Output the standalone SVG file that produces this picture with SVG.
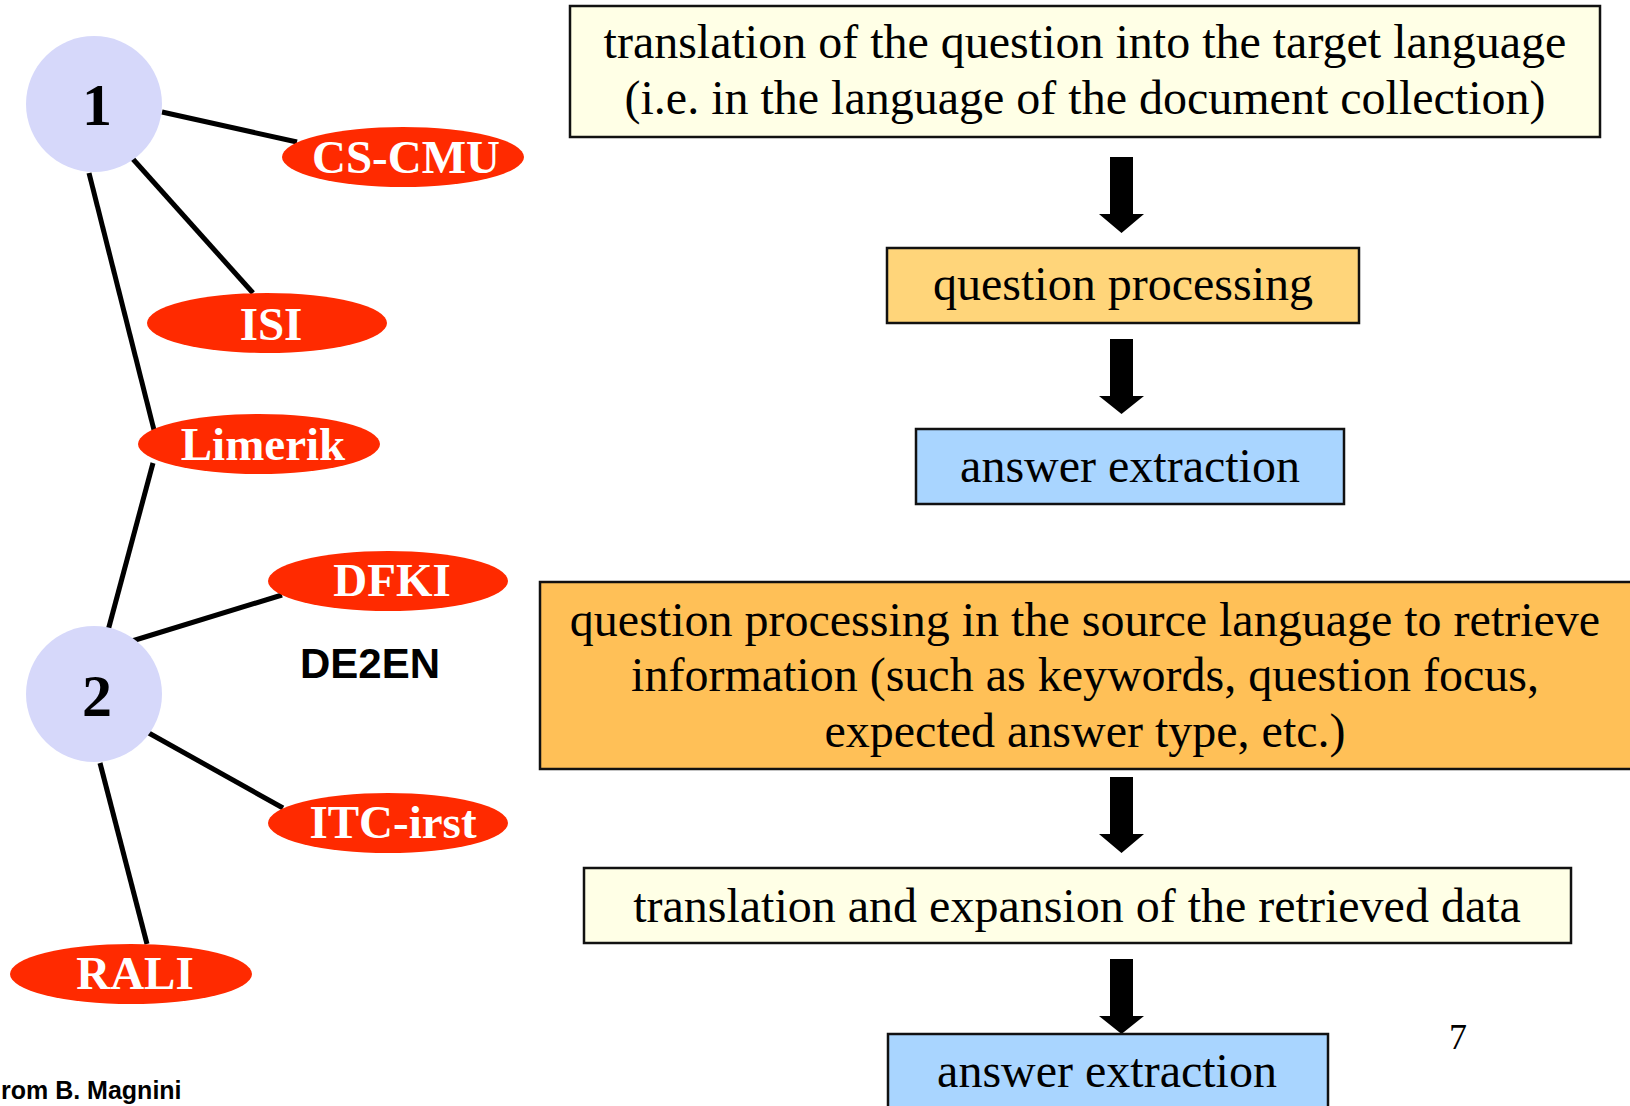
<svg xmlns="http://www.w3.org/2000/svg" width="1630" height="1106" viewBox="0 0 1630 1106">
<style>
.bg{fill:#ffffff}
.hub{fill:#d6d8fa}
.hubt{font-family:"Liberation Serif",serif;font-weight:bold;font-size:60px;fill:#000;text-anchor:middle}
.site{fill:#ff2a00}
.sitet{font-family:"Liberation Serif",serif;font-weight:bold;font-size:47px;fill:#fff;text-anchor:middle}
.edge{stroke:#000;stroke-width:5;fill:none}
.arrow{fill:#000}
.box{stroke:#111;stroke-width:2.5}
.ylw{fill:#ffffe6}
.org{fill:#ffd57a}
.org2{fill:#ffc057}
.blu{fill:#a9d5ff}
.bt{font-family:"Liberation Serif",serif;font-size:48px;fill:#000;text-anchor:middle}
.sans{font-family:"Liberation Sans",sans-serif;font-weight:bold;fill:#000}
</style>
<rect class="bg" x="0" y="0" width="1630" height="1106"/>
<g id="connectors">
<line class="edge" x1="162" y1="112" x2="297" y2="142"/>
<line class="edge" x1="132" y1="158" x2="253" y2="293"/>
<line class="edge" x1="89" y1="173" x2="154" y2="430"/>
<line class="edge" x1="153" y1="463" x2="106" y2="638"/>
<line class="edge" x1="132" y1="641" x2="282" y2="595"/>
<line class="edge" x1="147" y1="732" x2="283" y2="808"/>
<line class="edge" x1="100" y1="763" x2="147" y2="944"/>
<polygon class="arrow" points="1110,157 1133,157 1133,214 1144,214 1121.5,233 1099,214 1110,214"/>
<polygon class="arrow" points="1110,339 1133,339 1133,396 1144,396 1121.5,414 1099,396 1110,396"/>
<polygon class="arrow" points="1110,777 1133,777 1133,834 1144,834 1121.5,853 1099,834 1110,834"/>
<polygon class="arrow" points="1110,959 1133,959 1133,1016 1144,1016 1121.5,1034 1099,1016 1110,1016"/>
</g>
<g id="hub1"><ellipse class="hub" cx="94" cy="104" rx="68" ry="68"/><text class="hubt" x="97" y="125">1</text></g>
<g id="hub2"><ellipse class="hub" cx="94" cy="694" rx="68" ry="68"/><text class="hubt" x="97" y="716">2</text></g>
<g id="cs-cmu"><ellipse class="site" cx="403" cy="157" rx="121" ry="30"/><text class="sitet" x="406" y="173">CS-CMU</text></g>
<g id="isi"><ellipse class="site" cx="267" cy="323" rx="120" ry="30"/><text class="sitet" x="271" y="340">ISI</text></g>
<g id="limerik"><ellipse class="site" cx="259" cy="444" rx="121" ry="30"/><text class="sitet" x="263" y="460">Limerik</text></g>
<g id="dfki"><ellipse class="site" cx="388" cy="581" rx="120" ry="30"/><text class="sitet" x="392" y="596">DFKI</text></g>
<g id="itc-irst"><ellipse class="site" cx="388" cy="823" rx="120" ry="30"/><text class="sitet" x="393" y="838">ITC-irst</text></g>
<g id="rali"><ellipse class="site" cx="131" cy="974" rx="121" ry="30"/><text class="sitet" x="135" y="989">RALI</text></g>
<g id="de2en"><text class="sans" x="300" y="678" font-size="42">DE2EN</text></g>
<g id="credit"><text class="sans" x="1" y="1099" font-size="25">rom B. Magnini</text></g>
<g id="box1"><rect class="box ylw" x="570" y="6" width="1030" height="131"/>
<text class="bt" x="1085" y="58">translation of the question into the target language</text>
<text class="bt" x="1085" y="114">(i.e. in the language of the document collection)</text></g>
<g id="box2"><rect class="box org" x="887" y="248" width="472" height="75"/><text class="bt" x="1123" y="300">question processing</text></g>
<g id="box3"><rect class="box blu" x="916" y="429" width="428" height="75"/><text class="bt" x="1130" y="482">answer extraction</text></g>
<g id="box4"><rect class="box org2" x="540" y="582" width="1092" height="187"/>
<text class="bt" x="1085" y="636">question processing in the source language to retrieve</text>
<text class="bt" x="1085" y="691">information (such as keywords, question focus,</text>
<text class="bt" x="1085" y="747">expected answer type, etc.)</text></g>
<g id="box5"><rect class="box ylw" x="584" y="868" width="987" height="75"/><text class="bt" x="1077" y="922">translation and expansion of the retrieved data</text></g>
<g id="box6"><rect class="box blu" x="888" y="1034" width="440" height="100"/><text class="bt" x="1107" y="1087">answer extraction</text></g>
<g id="page"><text x="1449" y="1049" font-family="Liberation Serif, serif" font-size="36" fill="#000">7</text></g>
</svg>
